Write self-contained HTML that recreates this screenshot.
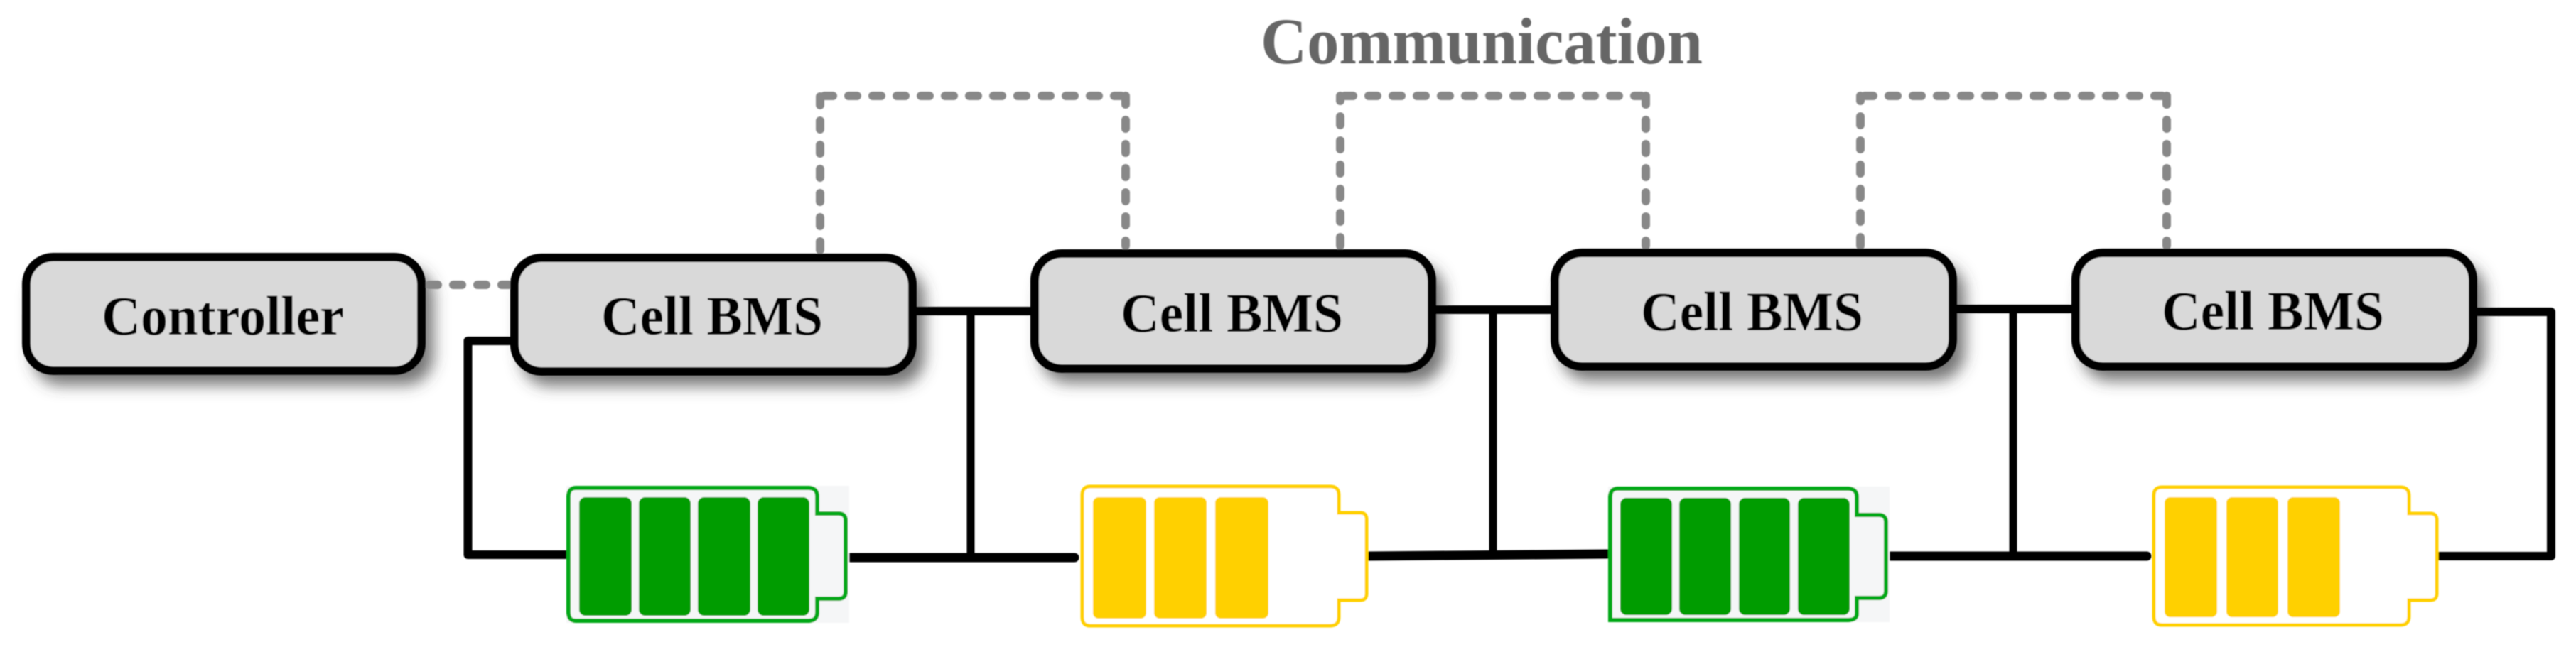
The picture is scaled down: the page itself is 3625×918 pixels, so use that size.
<!DOCTYPE html>
<html><head><meta charset="utf-8"><style>html,body{margin:0;padding:0;background:#fff}svg{display:block}text{font-family:"Liberation Serif",serif;font-weight:bold}</style></head>
<body>
<svg xmlns="http://www.w3.org/2000/svg" width="3625" height="918" viewBox="0 0 3625 918">
<defs>
<filter id="s" filterUnits="userSpaceOnUse" x="0" y="0" width="3625" height="918"><feGaussianBlur stdDeviation="11"/></filter>
<filter id="soft" filterUnits="userSpaceOnUse" x="0" y="0" width="3625" height="918"><feGaussianBlur stdDeviation="0.8"/></filter>
</defs>
<rect width="3625" height="918" fill="#fff"/>
<g filter="url(#soft)">

<!-- shadows -->
<g fill="#444" fill-opacity=".75" filter="url(#s)">
<rect x="46" y="377" width="564" height="165" rx="40"/>
<rect x="733" y="378" width="568" height="165" rx="40"/>
<rect x="1464" y="372" width="568" height="167" rx="40"/>
<rect x="2196" y="371" width="569" height="165" rx="40"/>
<rect x="2929" y="371" width="568" height="165" rx="40"/>
</g>

<!-- dashed communication -->
<g fill="none" stroke="#888" stroke-width="12" stroke-linecap="round" stroke-dasharray="12 22">
<path d="M604 401H716"/>
<path d="M1154 352V135"/><path d="M1160 135H1578"/><path d="M1584 135V346" />
<path d="M1886 346V135"/><path d="M1892 135H2310"/><path d="M2316 135V346"/>
<path d="M2618 346V135"/><path d="M2624 135H3043"/><path d="M3049 135V346"/>
</g>

<!-- black wiring -->
<g fill="none" stroke="#000" stroke-linecap="round" stroke-linejoin="round">
<path d="M722 480H658.500V781H800" stroke-width="12"/>
<path d="M1288 438H1452" stroke-width="12"/>
<path d="M1366 438V784" stroke-width="11"/>
<path d="M1193 785H1512" stroke-width="13"/>
<path d="M2019 436H2184" stroke-width="12"/>
<path d="M2101 436V782" stroke-width="11"/>
<path d="M1925 783L2262 780" stroke-width="13"/>
<path d="M2752 435H2917" stroke-width="12"/>
<path d="M2833 435V783" stroke-width="11"/>
<path d="M2657 783H3021" stroke-width="13"/>
<path d="M3484 439H3590V783H3432" stroke-width="12"/>
</g>

<!-- BMS boxes -->
<g fill="#d9d9d9" stroke="#000" stroke-width="12">
<rect x="37" y="362" width="556" height="160" rx="38"/>
<rect x="724" y="363" width="560" height="160" rx="38"/>
<rect x="1456" y="357" width="559" height="162" rx="38"/>
<rect x="2188" y="356" width="560" height="160" rx="38"/>
<rect x="2921" y="356" width="559" height="160" rx="38"/>
</g>

<!-- Text -->
<g font-size="78" fill="#000">
<text x="143" y="471" textLength="341" lengthAdjust="spacingAndGlyphs">Controller</text>
<text x="846" y="471" textLength="312" lengthAdjust="spacingAndGlyphs">Cell BMS</text>
<text x="1577" y="467" textLength="313" lengthAdjust="spacingAndGlyphs">Cell BMS</text>
<text x="2309" y="465" textLength="313" lengthAdjust="spacingAndGlyphs">Cell BMS</text>
<text x="3042" y="464" textLength="313" lengthAdjust="spacingAndGlyphs">Cell BMS</text>
</g>
<text x="1774" y="89" font-size="92" fill="#666" textLength="622" lengthAdjust="spacingAndGlyphs">Communication</text>

<!-- Battery 1 green -->
<rect x="797" y="684" width="398" height="193" fill="#f5f6f7"/>
<path d="M810 687H1138Q1150 687 1150 699V723H1180Q1190 723 1190 733V833Q1190 843 1180 843H1150V862Q1150 874 1138 874H810Q800 874 800 862V699Q800 687 810 687Z" fill="#f5f6f7" stroke="#00a814" stroke-width="6"/>
<g fill="#009c00">
<rect x="815" y="700" width="74" height="167" rx="9"/>
<rect x="899" y="700" width="73" height="167" rx="9"/>
<rect x="982" y="700" width="74" height="167" rx="9"/>
<rect x="1066" y="700" width="73" height="167" rx="9"/>
</g>

<!-- Battery 2 yellow -->
<path d="M1534 685H1872Q1884 685 1884 697V722H1914Q1923 722 1923 731V836Q1923 845 1914 845H1884V869Q1884 881 1872 881H1534Q1523 881 1523 869V697Q1523 685 1534 685Z" fill="#fff" stroke="#ffd000" stroke-width="5"/>
<g fill="#ffd000">
<rect x="1538" y="700" width="75" height="171" rx="8"/>
<rect x="1624" y="700" width="74" height="171" rx="8"/>
<rect x="1710" y="700" width="75" height="171" rx="8"/>
</g>

<!-- Battery 3 green -->
<rect x="2263" y="685" width="396" height="191" fill="#f5f6f7"/>
<path d="M2276 688H2601Q2613 688 2613 700V725H2644Q2654 725 2654 735V832Q2654 842 2644 842H2613V864Q2613 873 2601 873H2266V700Q2266 688 2276 688Z" fill="#f5f6f7" stroke="#00a814" stroke-width="6"/>
<g fill="#009c00">
<rect x="2280" y="701" width="73" height="165" rx="9"/>
<rect x="2363" y="701" width="73" height="165" rx="9"/>
<rect x="2447" y="701" width="72" height="165" rx="9"/>
<rect x="2530" y="701" width="73" height="165" rx="9"/>
</g>

<!-- Battery 4 yellow -->
<path d="M3042 686H3378Q3390 686 3390 698V723H3420Q3429 723 3429 732V836Q3429 845 3420 845H3390V868Q3390 880 3378 880H3042Q3031 880 3031 868V698Q3031 686 3042 686Z" fill="#fff" stroke="#ffd000" stroke-width="5"/>
<g fill="#ffd000">
<rect x="3046" y="700" width="74" height="169" rx="8"/>
<rect x="3133" y="700" width="73" height="169" rx="8"/>
<rect x="3219" y="700" width="74" height="169" rx="8"/>
</g>
</g>
</svg>
</body></html>
